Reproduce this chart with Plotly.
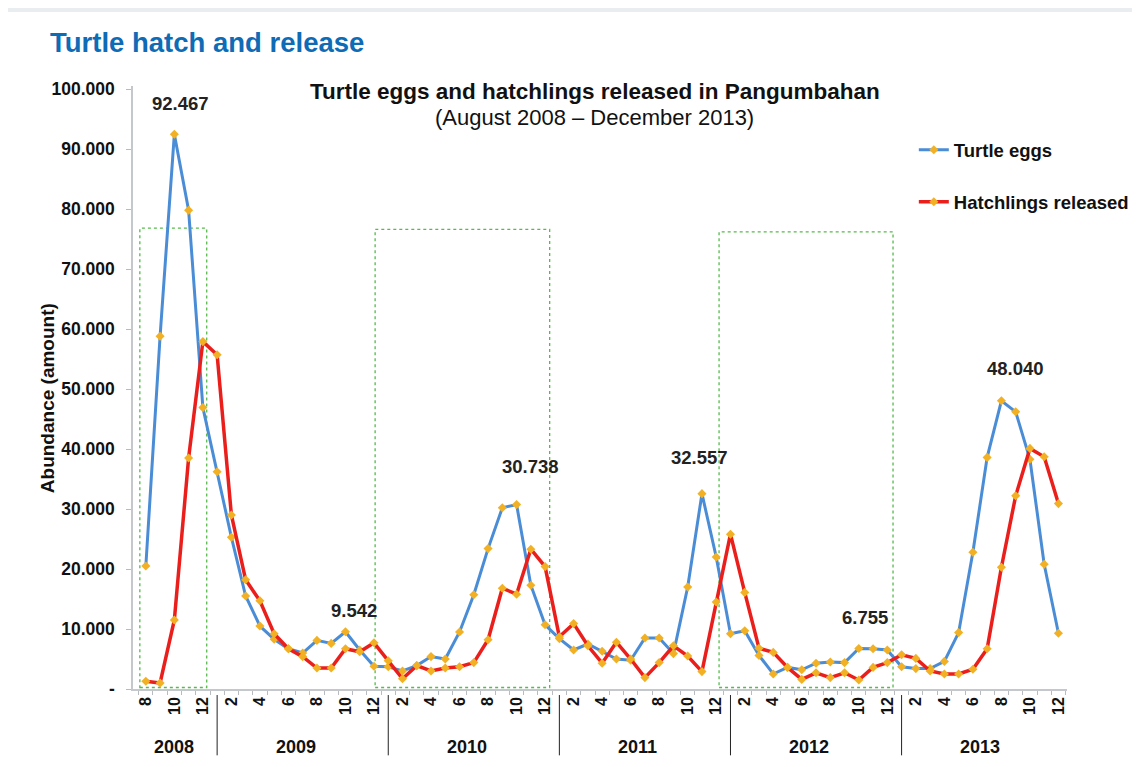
import plotly.graph_objects as go

# Aug 2008 - Dec 2013, one value per month
years = ['2008', '2009', '2010', '2011', '2012', '2013']
first_month = {'2008': 8}

turtle_eggs = [
    20500, 58800, 92467, 79800, 46900,
    36200, 25300, 15500, 10500, 8300, 6700, 6000, 8100, 7600, 9542, 6500, 3800,
    3700, 3000, 3900, 5400, 5000, 9500, 15700, 23400, 30200, 30738, 17300, 10700,
    8400, 6500, 7500, 6300, 5000, 4800, 8500, 8500, 5900, 17000, 32557, 22000,
    9200, 9700, 5600, 2500, 3600, 3200, 4300, 4500, 4400, 6755, 6700, 6500,
    3700, 3400, 3400, 4600, 9400, 22800, 38600, 48040, 46200, 38300, 20800, 9300,
]
hatchlings = [
    1300, 1000, 11500, 38500, 57900,
    55700, 29000, 18200, 14700, 9200, 6700, 5400, 3500, 3500, 6700, 6200, 7700,
    4700, 1700, 3900, 3000, 3500, 3700, 4400, 8200, 16800, 15800, 23300, 20400,
    8700, 10900, 7200, 4300, 7800, 5000, 1900, 4400, 7200, 5500, 2900, 14500,
    25800, 16100, 6800, 6100, 3600, 1600, 2700, 1900, 2700, 1500, 3600, 4400,
    5700, 5100, 3000, 2500, 2500, 3300, 6700, 20300, 32200, 40100, 38700, 30900,
]

# peak labels: (month index, text)
peak_labels = [(2, '92.467'), (14, '9.542'), (26, '30.738'),
               (39, '32.557'), (50, '6.755'), (60, '48.040')]

y_ticks = [0, 10000, 20000, 30000, 40000, 50000, 60000, 70000, 80000, 90000, 100000]
y_tick_text = ['-', '10.000', '20.000', '30.000', '40.000', '50.000',
               '60.000', '70.000', '80.000', '90.000', '100.000']

months = []
year_of = []
for yr in years:
    for m in range(first_month.get(yr, 1), 13):
        months.append(m)
        year_of.append(yr)
x = list(range(len(months)))

FONT = 'Liberation Sans, Arial, sans-serif'
MARK = dict(symbol='diamond', size=7, color='#f2b124')

fig = go.Figure()
fig.add_trace(go.Scatter(
    x=x, y=turtle_eggs, mode='lines+markers', name='Turtle eggs',
    legendgroup='a', line=dict(color='#4a8dd6', width=3), marker=MARK))
fig.add_trace(go.Scatter(
    x=x, y=hatchlings, mode='lines+markers', name='Hatchlings released',
    legendgroup='b', line=dict(color='#ea1f1c', width=3.5), marker=MARK))

# dotted green boxes
for x0, x1, top in [(-0.42, 4.27, 76800), (16.08, 28.32, 76600), (40.2, 52.4, 76200)]:
    fig.add_shape(type='rect', x0=x0, x1=x1, y0=250, y1=top, xref='x', yref='y',
                  line=dict(color='#55bb4a', width=1.3, dash='dot'), layer='below')

for i, txt in peak_labels:
    yoff = {2: 5200, 14: 3500, 26: 6300, 39: 6000, 50: 5100, 60: 5300}[i]
    xoff = {2: 0.45, 14: 0.6, 26: 1.0, 39: -0.2, 50: 0.4, 60: 1.0}[i]
    fig.add_annotation(x=i + xoff, y=turtle_eggs[i] + yoff, text=txt, showarrow=False,
                       yanchor='middle',
                       font=dict(family=FONT, size=18.5, color='#222', weight='bold'))

# year labels and separators
for yr in years:
    idx = [i for i, v in enumerate(year_of) if v == yr]
    if yr == years[0]:
        mid = 2
    else:
        mid = (idx[0] + idx[-1]) / 2
    fig.add_annotation(x=mid, y=-0.096, xref='x', yref='paper', text=yr, showarrow=False,
                       yanchor='middle',
                       font=dict(family=FONT, size=18, color='#111', weight='bold'))
    if yr != years[0]:
        fig.add_shape(type='line', x0=idx[0], x1=idx[0], y0=-0.01, y1=-0.11,
                      xref='x', yref='paper', line=dict(color='#222', width=1))

fig.add_annotation(x=0.4946, y=0.9917, xref='paper', yref='paper', showarrow=False,
                   yanchor='middle',
                   text='Turtle eggs and hatchlings released in Pangumbahan',
                   font=dict(family=FONT, size=22.5, color='#111', weight='bold'))
fig.add_annotation(x=0.4946, y=0.947, xref='paper', yref='paper', showarrow=False,
                   yanchor='middle',
                   text='(August 2008 – December 2013)',
                   font=dict(family=FONT, size=22, color='#111'))
fig.add_annotation(x=-0.105, y=0.483, xref='paper', yref='paper', showarrow=False,
                   text='Abundance (amount)', textangle=-90,
                   font=dict(family=FONT, size=19, color='#111', weight='bold'))

# thin grey strip at the very top of the page
fig.add_shape(type='rect', xref='paper', yref='paper', x0=-0.2, x1=1.1, y0=1.1227, y1=1.14,
              fillcolor='#e9edf0', line=dict(width=0))

tick_pos = [i for i in x if months[i] % 2 == 0]
tick_txt = [str(months[i]) for i in tick_pos]

fig.update_layout(
    width=1124, height=751,
    margin=dict(l=125, r=65, t=78, b=70, autoexpand=False),
    paper_bgcolor='white', plot_bgcolor='white',
    font=dict(family=FONT, color='#111'),
    title=dict(text='<b>Turtle hatch and release</b>', x=42 / 1124, xanchor='left',
               y=1 - 34 / 751, yanchor='middle',
               font=dict(family=FONT, size=27.5, color='#0e6bb6')),
    showlegend=True,
    legend=dict(x=0.836, y=0.925, xanchor='left', yanchor='top', traceorder='grouped',
                tracegroupgap=25, bgcolor='rgba(0,0,0,0)',
                font=dict(family=FONT, size=18.5, color='#111', weight='bold')),
    xaxis=dict(range=[-0.9, 64.6], tickmode='array', tickvals=tick_pos, ticktext=tick_txt,
               tickangle=-90, ticks='', showgrid=False, zeroline=False,
               showline=True, linecolor='#c4c8cc', linewidth=1.5,
               tickfont=dict(family=FONT, size=16, color='#111', weight='bold'),
               minor=dict(tickmode='array', tickvals=[i - 0.5 for i in range(len(x) + 1)],
                          ticks='outside', ticklen=4, tickcolor='#b8bcc0')),
    yaxis=dict(range=[0, 100500], tickmode='array', tickvals=y_ticks, ticktext=y_tick_text,
               ticks='outside', ticklen=5, tickcolor='#b8bcc0', ticklabelstandoff=8,
               showgrid=False, zeroline=False, showline=True, linecolor='#c4c8cc', linewidth=1.5,
               tickfont=dict(family=FONT, size=17.5, color='#111', weight='bold')),
)

fig.write_html("out.html")
